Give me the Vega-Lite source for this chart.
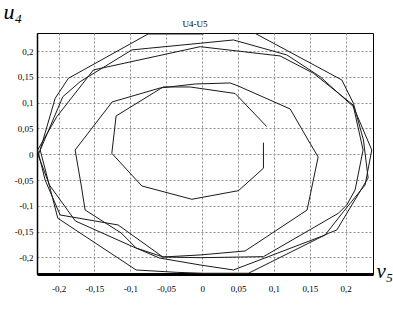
{
  "$schema": "https://vega.github.io/schema/vega-lite/v6.json",
  "width": 336,
  "height": 241,
  "autosize": "none",
  "padding": {"left": 37, "top": 33, "right": 20, "bottom": 35},
  "background": "white",
  "title": {"text": "U4-U5", "font": "Liberation Sans Narrow", "fontSize": 9, "fontWeight": "normal", "color": "#000", "offset": 9, "dx": -10, "dy": 38},
  "config": {
    "view": {"stroke": "#000", "strokeWidth": 1},
    "axis": {"labelFont": "Liberation Sans Narrow", "labelFontSize": 9, "labelColor": "#000", "ticks": false, "gridColor": "#8c8c8c", "gridDash": [2, 2], "gridWidth": 1, "domainColor": "#000"}
  },
  "data": {"values": [
    {"orbit": "A", "i": 1, "v5": 0.0854, "u4": 0.0225},
    {"orbit": "A", "i": 2, "v5": 0.0854, "u4": -0.0271},
    {"orbit": "A", "i": 3, "v5": 0.0506, "u4": -0.0705},
    {"orbit": "A", "i": 4, "v5": -0.0143, "u4": -0.0872},
    {"orbit": "A", "i": 5, "v5": -0.084, "u4": -0.0614},
    {"orbit": "A", "i": 6, "v5": -0.1258, "u4": 0.0019},
    {"orbit": "A", "i": 7, "v5": -0.1198, "u4": 0.0742},
    {"orbit": "A", "i": 8, "v5": -0.0543, "u4": 0.1304},
    {"orbit": "A", "i": 9, "v5": -0.0167, "u4": 0.1304},
    {"orbit": "A", "i": 10, "v5": 0.046, "u4": 0.1178},
    {"orbit": "A", "i": 11, "v5": 0.0901, "u4": 0.0535},

    {"orbit": "B", "i": 1, "v5": -0.1769, "u4": 0.0083},
    {"orbit": "B", "i": 2, "v5": -0.1253, "u4": 0.1014},
    {"orbit": "B", "i": 3, "v5": -0.0585, "u4": 0.1285},
    {"orbit": "B", "i": 4, "v5": -0.0097, "u4": 0.1362},
    {"orbit": "B", "i": 5, "v5": 0.039, "u4": 0.1382},
    {"orbit": "B", "i": 6, "v5": 0.0501, "u4": 0.1324},
    {"orbit": "B", "i": 7, "v5": 0.1226, "u4": 0.0878},
    {"orbit": "B", "i": 8, "v5": 0.1476, "u4": 0.0277},
    {"orbit": "B", "i": 9, "v5": 0.1616, "u4": -0.0052},
    {"orbit": "B", "i": 10, "v5": 0.1462, "u4": -0.108},
    {"orbit": "B", "i": 11, "v5": 0.0599, "u4": -0.1874},
    {"orbit": "B", "i": 12, "v5": -0.0028, "u4": -0.1951},
    {"orbit": "B", "i": 13, "v5": -0.0543, "u4": -0.199},
    {"orbit": "B", "i": 14, "v5": -0.0919, "u4": -0.1816},
    {"orbit": "B", "i": 15, "v5": -0.1128, "u4": -0.1525},
    {"orbit": "B", "i": 16, "v5": -0.163, "u4": -0.108},
    {"orbit": "B", "i": 17, "v5": -0.1685, "u4": -0.0595},
    {"orbit": "B", "i": 18, "v5": -0.1769, "u4": 0.0083},

    {"orbit": "C", "i": 1, "v5": -0.0752, "u4": 0.2331},
    {"orbit": "C", "i": 2, "v5": 0.0014, "u4": 0.2331},
    {"orbit": "C", "i": 3, "v5": 0.039, "u4": 0.2603},
    {"orbit": "C", "i": 4, "v5": 0.1946, "u4": 0.144},
    {"orbit": "C", "i": 5, "v5": 0.2107, "u4": 0.0988},
    {"orbit": "C", "i": 6, "v5": 0.2247, "u4": 0.0277},
    {"orbit": "C", "i": 7, "v5": 0.2312, "u4": -0.0459},
    {"orbit": "C", "i": 8, "v5": 0.1876, "u4": -0.1467},
    {"orbit": "C", "i": 9, "v5": 0.1759, "u4": -0.1531},
    {"orbit": "C", "i": 10, "v5": 0.0645, "u4": -0.2306},
    {"orbit": "C", "i": 11, "v5": 0.001, "u4": -0.2306},
    {"orbit": "C", "i": 12, "v5": -0.0362, "u4": -0.2287},
    {"orbit": "C", "i": 13, "v5": -0.0919, "u4": -0.2242},
    {"orbit": "C", "i": 14, "v5": -0.201, "u4": -0.124},
    {"orbit": "C", "i": 15, "v5": -0.2256, "u4": 0.0083},
    {"orbit": "C", "i": 16, "v5": -0.2047, "u4": 0.1085},
    {"orbit": "C", "i": 17, "v5": -0.1862, "u4": 0.1473},
    {"orbit": "C", "i": 18, "v5": -0.0752, "u4": 0.2331},

    {"orbit": "D", "i": 1, "v5": -0.0979, "u4": 0.2022},
    {"orbit": "D", "i": 2, "v5": -0.0748, "u4": 0.2054},
    {"orbit": "D", "i": 3, "v5": -0.0028, "u4": 0.2151},
    {"orbit": "D", "i": 4, "v5": 0.0436, "u4": 0.2215},
    {"orbit": "D", "i": 5, "v5": 0.118, "u4": 0.1925},
    {"orbit": "D", "i": 6, "v5": 0.1643, "u4": 0.1504},
    {"orbit": "D", "i": 7, "v5": 0.2107, "u4": 0.0922},
    {"orbit": "D", "i": 8, "v5": 0.2363, "u4": 0.0083},
    {"orbit": "D", "i": 9, "v5": 0.227, "u4": -0.0595},
    {"orbit": "D", "i": 10, "v5": 0.1968, "u4": -0.1112},
    {"orbit": "D", "i": 11, "v5": 0.1713, "u4": -0.1564},
    {"orbit": "D", "i": 12, "v5": 0.0436, "u4": -0.2242},
    {"orbit": "D", "i": 13, "v5": -0.0028, "u4": -0.2145},
    {"orbit": "D", "i": 14, "v5": -0.0595, "u4": -0.201},
    {"orbit": "D", "i": 15, "v5": -0.0965, "u4": -0.1791},
    {"orbit": "D", "i": 16, "v5": -0.1765, "u4": -0.1293},
    {"orbit": "D", "i": 17, "v5": -0.2127, "u4": -0.0595},
    {"orbit": "D", "i": 18, "v5": -0.2284, "u4": -0.0014},
    {"orbit": "D", "i": 19, "v5": -0.194, "u4": 0.1116},
    {"orbit": "D", "i": 20, "v5": -0.1699, "u4": 0.1407},
    {"orbit": "D", "i": 21, "v5": -0.0979, "u4": 0.2022},

    {"orbit": "E", "i": 1, "v5": -0.0028, "u4": 0.2085},
    {"orbit": "E", "i": 2, "v5": 0.1086, "u4": 0.1905},
    {"orbit": "E", "i": 3, "v5": 0.155, "u4": 0.157},
    {"orbit": "E", "i": 4, "v5": 0.2103, "u4": 0.0955},
    {"orbit": "E", "i": 5, "v5": 0.2242, "u4": 0.0083},
    {"orbit": "E", "i": 6, "v5": 0.2131, "u4": -0.069},
    {"orbit": "E", "i": 7, "v5": 0.2015, "u4": -0.0982},
    {"orbit": "E", "i": 8, "v5": 0.1898, "u4": -0.1143},
    {"orbit": "E", "i": 9, "v5": 0.0854, "u4": -0.1984},
    {"orbit": "E", "i": 10, "v5": -0.0028, "u4": -0.2004},
    {"orbit": "E", "i": 11, "v5": -0.0547, "u4": -0.199},
    {"orbit": "E", "i": 12, "v5": -0.117, "u4": -0.137},
    {"orbit": "E", "i": 13, "v5": -0.1978, "u4": -0.1176},
    {"orbit": "E", "i": 14, "v5": -0.2187, "u4": -0.0498},
    {"orbit": "E", "i": 15, "v5": -0.2291, "u4": 0.0083},
    {"orbit": "E", "i": 16, "v5": -0.2024, "u4": 0.0729},
    {"orbit": "E", "i": 17, "v5": -0.1514, "u4": 0.1634},
    {"orbit": "E", "i": 18, "v5": -0.0028, "u4": 0.2085}
  ]},
  "mark": {"type": "line", "clip": true, "color": "#1a1a1a", "strokeWidth": 1, "interpolate": "linear"},
  "encoding": {
    "x": {
      "field": "v5", "type": "quantitative",
      "scale": {"domain": [-0.23, 0.238], "nice": false, "zero": false},
      "axis": {
        "values": [-0.2, -0.15, -0.1, -0.05, 0, 0.05, 0.1, 0.15, 0.2],
        "labelExpr": "replace(replace(format(datum.value, '~f'), '.', ','), '\u2212', '-')",
        "labelPadding": 10,
        "domainWidth": 3,
        "title": "v\u2085",
        "titleFont": "Liberation Serif", "titleFontStyle": "italic", "titleFontWeight": "normal", "titleFontSize": 21,
        "titleAlign": "left", "titleBaseline": "alphabetic", "titleAnchor": null,
        "titleX": 339, "titleY": 3
      }
    },
    "y": {
      "field": "u4", "type": "quantitative",
      "scale": {"domain": [-0.232, 0.235], "nice": false, "zero": false},
      "axis": {
        "values": [-0.2, -0.15, -0.1, -0.05, 0, 0.05, 0.1, 0.15, 0.2],
        "labelExpr": "replace(replace(format(datum.value, '~f'), '.', ','), '\u2212', '-')",
        "labelPadding": 4,
        "domainWidth": 1.5,
        "title": "u\u2084",
        "titleFont": "Liberation Serif", "titleFontStyle": "italic", "titleFontWeight": "normal", "titleFontSize": 22,
        "titleAngle": 0, "titleAlign": "left", "titleBaseline": "alphabetic", "titleAnchor": null,
        "titleX": -34, "titleY": -15
      }
    },
    "detail": {"field": "orbit", "type": "nominal"},
    "order": {"field": "i", "type": "quantitative"}
  }
}
